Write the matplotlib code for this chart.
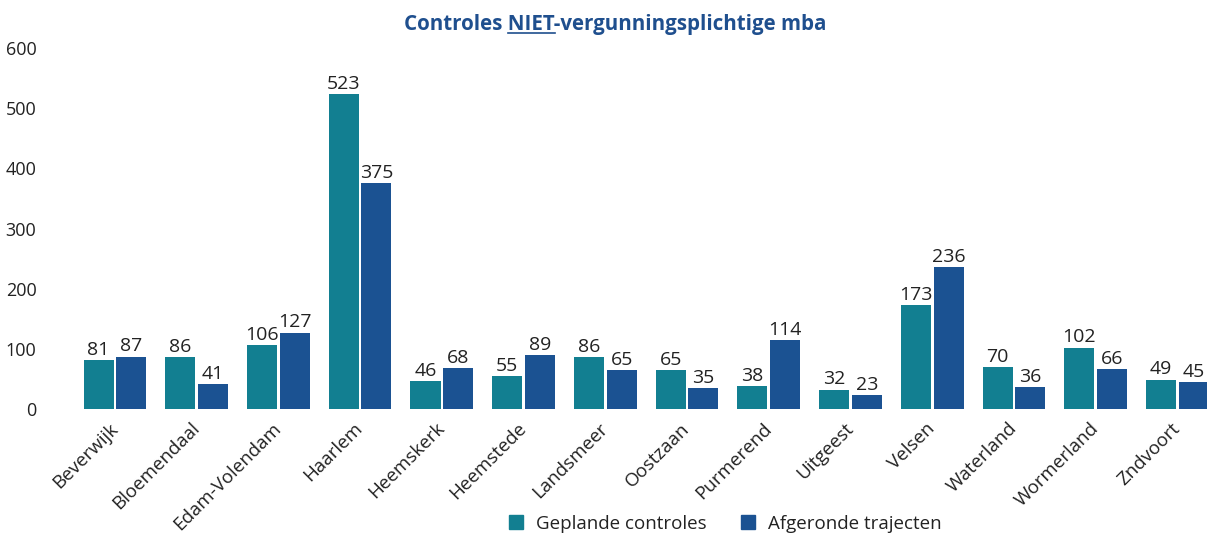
import matplotlib
matplotlib.use("Agg")
import matplotlib.pyplot as plt
from matplotlib.lines import Line2D
import numpy as np

plt.rcParams['font.family'] = ['Open Sans', 'DejaVu Sans']

gemeenten = ["Beverwijk", "Bloemendaal", "Edam-Volendam", "Haarlem", "Heemskerk",
             "Heemstede", "Landsmeer", "Oostzaan", "Purmerend", "Uitgeest",
             "Velsen", "Waterland", "Wormerland", "Zndvoort"]
geplande_controles = [81, 86, 106, 523, 46, 55, 86, 65, 38, 32, 173, 70, 102, 49]
afgeronde_trajecten = [87, 41, 127, 375, 68, 89, 65, 35, 114, 23, 236, 36, 66, 45]
reeks_namen = ["Geplande controles", "Afgeronde trajecten"]
y_ticks = [0, 100, 200, 300, 400, 500, 600]

teal = "#127f91"
blauw = "#1b5292"
titel_kleur = "#1f4f8e"
tekst = "#222222"

fig = plt.figure(figsize=(12.07, 5.34), dpi=100)
ax = fig.add_axes([0.0613, 0.234, 0.9387, 0.676])

x = np.arange(len(gemeenten))
w = 0.367
b1 = ax.bar(x - 0.2, geplande_controles, w, color=teal, label=reeks_namen[0])
b2 = ax.bar(x + 0.2, afgeronde_trajecten, w, color=blauw, label=reeks_namen[1])
ax.bar_label(b1, padding=1, fontsize=14, color=tekst)
ax.bar_label(b2, padding=1, fontsize=14, color=tekst)

ax.set_xlim(-0.5, 13.36)
ax.set_ylim(0, 600)
ax.set_yticks(y_ticks)
ax.set_yticklabels([str(v) for v in y_ticks], fontsize=13, color=tekst)
ax.set_xticks(x)
ax.set_xticklabels(gemeenten, rotation=45, ha='right', va='center',
                   rotation_mode='anchor', fontsize=13.5, color=tekst)
ax.tick_params(axis='both', length=0)
ax.tick_params(axis='y', pad=27)
ax.tick_params(axis='x', pad=12)
for s in ax.spines.values():
    s.set_visible(False)

handles = [Line2D([], [], marker='s', linestyle='none', markersize=10, color=teal),
           Line2D([], [], marker='s', linestyle='none', markersize=10, color=blauw)]
fig.legend(handles, reeks_namen, loc='center', bbox_to_anchor=(0.596, 0.019),
           ncol=2, frameon=False, fontsize=13.5, handletextpad=0.05, columnspacing=1.2,
           labelcolor=tekst)

# titel met onderstreept NIET
titel = "Controles NIET-vergunningsplichtige mba"
tprops = dict(fontsize=14.8, fontweight='bold', color=titel_kleur)
t = fig.text(0.51, 0.944, titel, ha='center', va='baseline', **tprops)
fig.canvas.draw()
r = fig.canvas.get_renderer()
bb = t.get_window_extent(r)
def breedte(s):
    tmp = fig.text(0, 0, s, **tprops)
    wd = tmp.get_window_extent(r).width
    tmp.remove()
    return wd
x_eind = bb.x0 + breedte("Controles NIET")
x_begin = x_eind - breedte("NIET")
y_lijn = 0.944 * fig.bbox.height - 3
fig.add_artist(Line2D([x_begin / fig.bbox.width, x_eind / fig.bbox.width],
                      [y_lijn / fig.bbox.height] * 2, color=titel_kleur, lw=1.2,
                      transform=fig.transFigure))

fig.savefig("out.png", dpi=100)
